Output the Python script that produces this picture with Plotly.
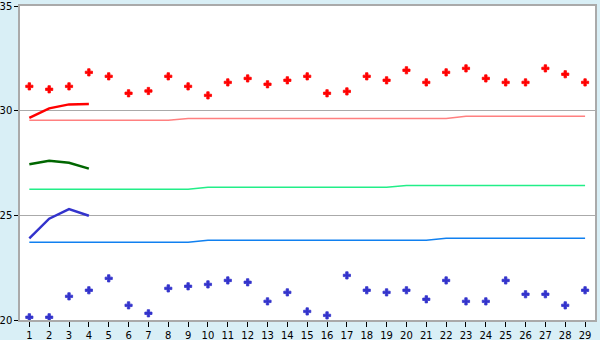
import plotly.graph_objects as go

x = list(range(1, 30))
x_short = [1, 2, 3, 4]

red_points = [31.16, 31.02, 31.16, 31.83, 31.64, 30.83, 30.94, 31.64, 31.16,
              30.73, 31.35, 31.54, 31.26, 31.45, 31.64, 30.83, 30.92, 31.64, 31.45,
              31.93, 31.35, 31.83, 32.02, 31.54, 31.35, 31.35, 32.02, 31.74, 31.35]
blue_points = [20.13, 20.13, 21.13, 21.42, 21.99, 20.70, 20.32, 21.51, 21.61,
               21.70, 21.89, 21.80, 20.89, 21.32, 20.41, 20.22, 22.13, 21.42, 21.32,
               21.42, 20.99, 21.89, 20.89, 20.89, 21.89, 21.23, 21.23, 20.70, 21.42]

pink_line = [29.54] * 8 + [29.63] * 14 + [29.73] * 7
green_line = [26.25] * 9 + [26.34] * 10 + [26.43] * 10
blue_line = [23.71] * 9 + [23.81] * 12 + [23.90] * 8

red_short = [29.65, 30.11, 30.30, 30.32]
green_short = [27.44, 27.61, 27.51, 27.23]
blue_short = [23.90, 24.84, 25.30, 24.98]

fig = go.Figure()
fig.add_trace(go.Scatter(x=x, y=pink_line, mode="lines", line=dict(color="#ff8080", width=1.5)))
fig.add_trace(go.Scatter(x=x, y=green_line, mode="lines", line=dict(color="#22ee88", width=1.5)))
fig.add_trace(go.Scatter(x=x, y=blue_line, mode="lines", line=dict(color="#1080f0", width=1.5)))
fig.add_trace(go.Scatter(x=x_short, y=red_short, mode="lines", line=dict(color="#ff0000", width=2.5)))
fig.add_trace(go.Scatter(x=x_short, y=green_short, mode="lines", line=dict(color="#006600", width=2.5)))
fig.add_trace(go.Scatter(x=x_short, y=blue_short, mode="lines", line=dict(color="#3333cc", width=2.5)))
fig.add_trace(go.Scatter(x=x, y=red_points, mode="markers",
                         marker=dict(symbol="cross", size=6, color="#ff0000",
                                     line=dict(width=0.8, color="#ff0000"))))
fig.add_trace(go.Scatter(x=x, y=blue_points, mode="markers",
                         marker=dict(symbol="cross", size=6, color="#3333cc",
                                     line=dict(width=0.8, color="#3333cc"))))

fig.update_layout(
    width=600, height=340,
    margin=dict(l=20, r=5, t=6, b=20, autoexpand=False),
    paper_bgcolor="#d9eff6", plot_bgcolor="#ffffff",
    showlegend=False,
    font=dict(family="DejaVu Sans", size=10, color="#000000"),
)
fig.update_xaxes(range=[0.53, 29.5], tickmode="array", tickvals=x, ticktext=[str(v) for v in x],
                 showgrid=False, zeroline=False, showline=True, linecolor="#aaaaaa", linewidth=1.5,
                 mirror=True, ticks="outside", ticklen=5, tickcolor="#000000", tickwidth=1,
                 automargin=False, ticklabeloverflow="allow", ticklabelstandoff=0)
fig.update_yaxes(range=[20, 35], tickvals=[20, 25, 30, 35], showgrid=True, gridcolor="#aaaaaa",
                 gridwidth=1, zeroline=False, showline=True, linecolor="#aaaaaa", linewidth=1.5,
                 mirror=True, ticks="outside", ticklen=4, tickcolor="#000000", tickwidth=1,
                 automargin=False, ticklabelstandoff=0, ticklabeloverflow="allow")

fig.write_html("out.html")
